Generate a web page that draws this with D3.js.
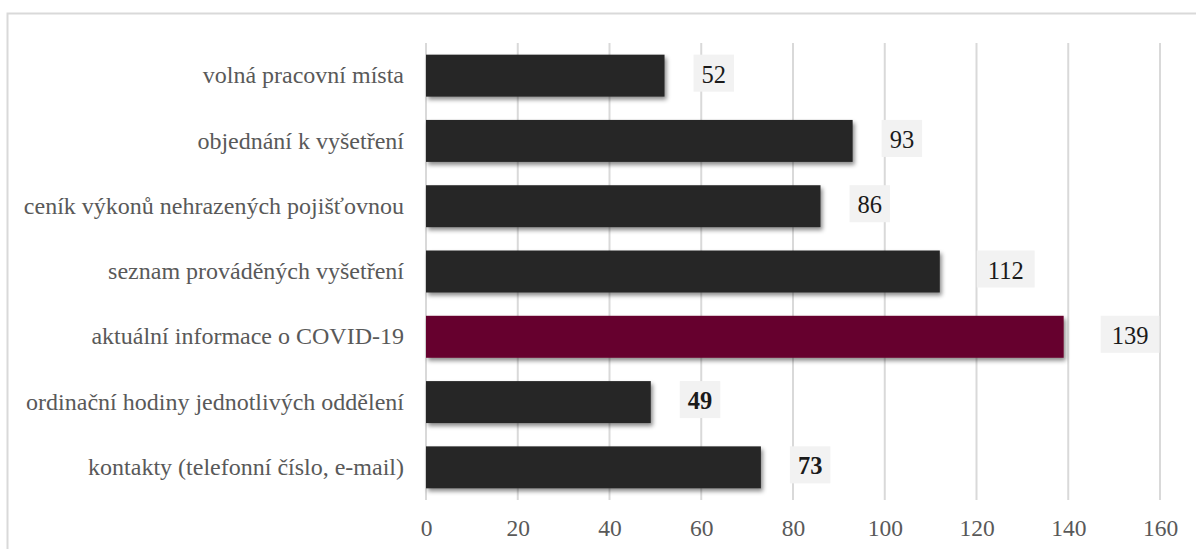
<!DOCTYPE html>
<html><head><meta charset="utf-8">
<script src="https://cdn.jsdelivr.net/npm/d3@7"></script>
<style>html,body{margin:0;padding:0;background:#fff;overflow:hidden}
svg text{font-family:"Liberation Serif","DejaVu Serif",serif}</style>
</head><body>
<svg id="c" width="1196" height="549"></svg>
<script>
const categories = ["volná pracovní místa","objednání k vyšetření","ceník výkonů nehrazených pojišťovnou","seznam prováděných vyšetření","aktuální informace o COVID-19","ordinační hodiny jednotlivých oddělení","kontakty (telefonní číslo, e-mail)"];
const values = [52, 93, 86, 112, 139, 49, 73];
const highlighted = [false, false, false, false, true, false, false];
const boldLabel = [false, false, false, false, false, true, true];
const xTicks = [0, 20, 40, 60, 80, 100, 120, 140, 160];

(function(){
const FF = '"Liberation Serif","DejaVu Serif",serif';
const svg = d3.select("#c");
const defs = svg.append("defs");
const f = defs.append("filter").attr("id","sh").attr("x","-5%").attr("y","-20%").attr("width","115%").attr("height","160%");
f.append("feDropShadow").attr("dx",2).attr("dy",3).attr("stdDeviation",2.2).attr("flood-color","#000").attr("flood-opacity",0.45);

svg.append("rect").attr("x",7.5).attr("y",13.5).attr("width",1400).attr("height",700)
  .attr("fill","#fff").attr("stroke","#d9d9d9").attr("stroke-width",2);

const pl = 426, pr = 1160, pt = 43, pb = 500;
const x = d3.scaleLinear().domain([0,160]).range([pl,pr]);
const y = d3.scaleBand().domain(categories).range([pt,pb]).paddingInner(0.357).paddingOuter(0.1785);

svg.append("g").selectAll("line").data(xTicks).join("line")
  .attr("x1",d=>x(d)).attr("x2",d=>x(d)).attr("y1",pt).attr("y2",pb)
  .attr("stroke","#d9d9d9").attr("stroke-width",2);

const xAxis = svg.append("g").attr("transform",`translate(0,${pb})`)
  .call(d3.axisBottom(x).tickValues(xTicks).tickSize(0).tickPadding(19));
xAxis.attr("font-family",null);
xAxis.select(".domain").remove();
xAxis.selectAll("text").style("font-family",FF).style("font-size","23.5px").attr("fill","#595959");

const yAxis = svg.append("g").attr("transform",`translate(${pl},0)`)
  .call(d3.axisLeft(y).tickSize(0).tickPadding(22));
yAxis.attr("font-family",null);
yAxis.select(".domain").remove();
yAxis.selectAll("text").style("font-family",FF).style("font-size","24px").attr("fill","#595959");

const data = categories.map((c,i)=>({c, v:values[i], h:highlighted[i], b:boldLabel[i]}));

svg.append("g").selectAll("rect").data(data).join("rect")
  .attr("x",x(0)).attr("y",d=>y(d.c)).attr("width",d=>x(d.v)-x(0)).attr("height",y.bandwidth())
  .attr("fill",d=>d.h?"#66002e":"#262626").attr("filter","url(#sh)");

const lg = svg.append("g").selectAll("g").data(data).join("g");
lg.each(function(d){
  const g = d3.select(this);
  const t = g.append("text").text(d.v)
    .style("font-family",FF).style("font-size","24.5px").style("font-weight",d.b?"bold":"normal").attr("fill","#1a1a1a")
    .attr("dominant-baseline","central").attr("text-anchor","middle");
  const w = t.node().getComputedTextLength();
  const bw = w + (d.v>=100?22:16), bh = 37;
  const bx = x(d.v) + 29 + (d.v>=100?8:0);
  const cy = y(d.c) + y.bandwidth()/2 - 2.5;
  g.insert("rect","text").attr("x",bx).attr("y",cy-bh/2).attr("width",bw).attr("height",bh).attr("fill","#f2f2f2");
  t.attr("x",bx+bw/2).attr("y",cy+1);
});
})();
</script>
</body></html>
